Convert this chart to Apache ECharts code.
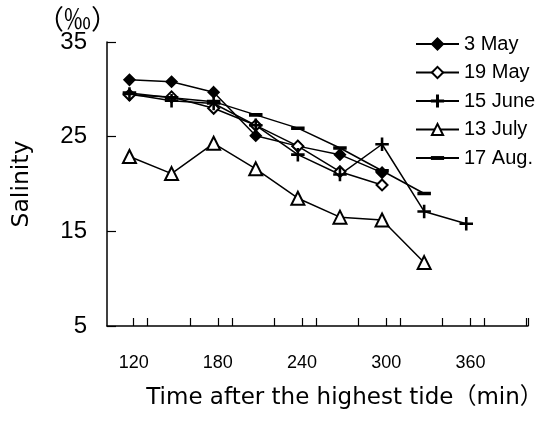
<!DOCTYPE html>
<html>
<head>
<meta charset="utf-8">
<script src="https://cdn.jsdelivr.net/npm/echarts@6/dist/echarts.min.js"></script>
<style>
  html, body { margin: 0; padding: 0; background: #fff; }
  #chart { width: 542px; height: 421px; }
</style>
</head>
<body>
<div id="chart"></div>
<script>
// Time after the highest tide (min)
const times = [120, 150, 180, 210, 240, 270, 300, 330, 360];

// Salinity (‰) for each sampling date
const may3   = [31.0, 30.8, 29.7, 25.1, 24.0, 23.1, 21.2];
const may19  = [29.4, 29.2, 28.0, 26.2, 24.0, 21.3, 19.9];
const june15 = [29.5, 28.8, 28.5, 26.2, 23.1, 21.0, 24.2, 17.1, 15.8];
const july13 = [22.9, 21.1, 24.3, 21.6, 18.5, 16.5, 16.2, 11.7];
const aug17  = [29.6, 29.1, 28.7, 27.3, 25.9, 23.8, 21.4, 19.0];

const xTickLabels = [120, 180, 240, 300, 360];
const yTicks = [5, 15, 25, 35];

const FONT = '"Liberation Sans", Arial, "Noto Sans CJK JP", sans-serif';
const WIDE = '"DejaVu Sans", "Noto Sans CJK JP", sans-serif';
const CJK = '"Noto Sans CJK JP", sans-serif';

// The time labels sit a few minutes right of their nominal value,
// each followed by two minor ticks.
const labelShift = 3;
const labelPos = xTickLabels.map(v => v + labelShift);
const tickPos = [];
labelPos.forEach(p => { tickPos.push(p, p + 10, p + 40); });
tickPos.push(404);

const pairs = arr => arr.map((v, i) => [times[i], v]);

const plusPath = 'path://M-1,-0.09H1V0.09H-1Z M-0.09,-1H0.09V1H-0.09Z';
const dashPath = 'path://M0,-1M0,1M-1,-0.17H1V0.17H-1Z';

function series(name, data, symbol, size) {
  return {
    name, type: 'line', data: pairs(data),
    symbol, symbolSize: size,
    showAllSymbol: true,
    lineStyle: { color: '#000', width: 1.5 },
    itemStyle: { color: '#000', borderColor: '#000', borderWidth: 1.5 },
    emphasis: { disabled: true },
    animation: false
  };
}

const chart = echarts.init(document.getElementById('chart'), null, { renderer: 'canvas' });
chart.setOption({
  animation: false,
  backgroundColor: '#fff',
  textStyle: { fontFamily: FONT, color: '#000' },
  graphic: [{
    type: 'text', left: 37, top: 5,
    style: { text: '（‰）', fontFamily: CJK, fontSize: 27, fill: '#000' }
  }],
  grid: { left: 107, right: 14, top: 42, bottom: 95, containLabel: false, outerBoundsMode: 'none' },
  legend: {
    left: 415, top: 34, orient: 'vertical', padding: 0,
    itemWidth: 43, itemHeight: 14, itemGap: 8.5,
    textStyle: { fontFamily: FONT, fontSize: 20, color: '#000', lineHeight: 20 },
    data: ['3 May', '19 May', '15 June', '13 July', '17 Aug.']
  },
  xAxis: {
    type: 'value', min: 104, max: 404,
    name: 'Time after the highest tide（min）',
    nameLocation: 'middle', nameGap: 61,
    nameTextStyle: { fontFamily: WIDE, fontSize: 23, color: '#000', padding: [0, 0, 0, 54] },
    axisLine: { show: true, onZero: false, lineStyle: { color: '#000', width: 1.5 } },
    axisTick: { show: true, inside: true, length: 8, customValues: tickPos, lineStyle: { color: '#000', width: 1.2 } },
    axisLabel: {
      customValues: labelPos, margin: 28,
      fontFamily: FONT, fontSize: 18, color: '#000',
      formatter: v => String(Math.round(v - labelShift))
    },
    splitLine: { show: false }
  },
  yAxis: {
    type: 'value', min: 5, max: 35, interval: 10,
    name: 'Salinity', nameLocation: 'middle', nameGap: 73, nameRotate: 90,
    nameTextStyle: { fontFamily: WIDE, fontSize: 23.5, color: '#000' },
    axisLine: { show: true, lineStyle: { color: '#000', width: 1.5 } },
    axisTick: { show: true, inside: true, length: 9, lineStyle: { color: '#000', width: 1.2 } },
    axisLabel: { margin: 20, fontFamily: FONT, fontSize: 24, color: '#000',
      customValues: yTicks },
    splitLine: { show: false }
  },
  series: [
    series('3 May', may3, 'diamond', 11),
    series('19 May', may19, 'emptyDiamond', 11),
    series('15 June', june15, plusPath, 12),
    series('13 July', july13, 'emptyTriangle', 13),
    series('17 Aug.', aug17, dashPath, 12)
  ]
});
</script>
</body>
</html>
